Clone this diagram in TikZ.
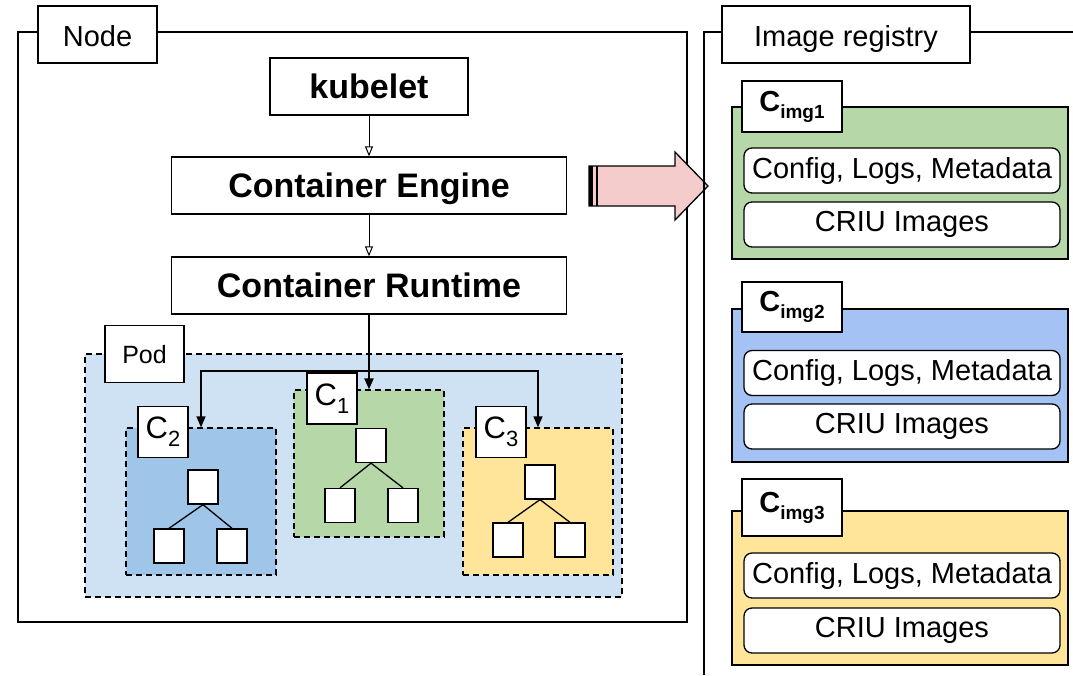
\documentclass[tikz,border=0pt]{standalone}
\usepackage{xcolor}
\usepackage{fontspec}
\setmainfont{Liberation Sans}
\usepackage{tikz}
\usetikzlibrary{positioning, arrows.meta, calc}
\definecolor{podblue}{HTML}{CFE2F3}
\definecolor{cgreen}{HTML}{B6D7A8}
\definecolor{cblue}{HTML}{9FC5E8}
\definecolor{cyellow}{HTML}{FFE599}
\definecolor{imgblue}{HTML}{A4C2F4}
\definecolor{arrowpink}{HTML}{F4CCCC}

\newcommand{\fs}[1]{\fontsize{#1}{#1}\selectfont}
\newcommand{\csub}[1]{C\raisebox{-8pt}{\fs{22}#1}}
\newcommand{\cimg}[1]{\textbf{C\raisebox{-7pt}{\fs{19}img#1}}}

\tikzset{
	box/.style={draw, fill=white, line width=1.3pt, inner sep=0pt},
	frame/.style={draw, line width=1.3pt},
	tagbox/.style={box, font=\fs{29}, text height=23pt, text depth=0pt},
	layer/.style={box, font=\fs{34}\bfseries, minimum height=57pt, text height=24.5pt, text depth=0pt},
	cbox/.style={draw, line width=1.3pt, dash pattern=on 6pt off 4pt, inner sep=0pt, minimum width=150pt, minimum height=147pt},
	ctag/.style={box, font=\fs{31}, minimum width=50pt, minimum height=51pt},
	leaf/.style={box, minimum width=30pt, minimum height=34pt},
	imgbox/.style={draw, line width=1.3pt, inner sep=0pt, minimum width=336pt},
	imgtag/.style={box, font=\fs{29}, minimum width=100pt},
	part/.style={box, rounded corners=8pt, font=\fs{29}, minimum width=316pt, minimum height=45pt},
	hollow/.style={-{Triangle[open, width=8pt, length=10pt]}, line width=1pt},
	solid tip/.style={-{Triangle[width=9pt, length=11pt]}, line width=1.5pt}
}

\begin{document}
\begin{tikzpicture}[x=1pt, y=-1pt]
		\useasboundingbox (0,0) rectangle (1073,675);
		
		%% node frame
		\draw[frame] (18,32) rectangle (687,622);
		\node[tagbox, minimum width=119pt, minimum height=57pt] (nodetag) at (97.5,34.5) {Node};
		
		\node[layer, minimum width=198pt] (kubelet) at (369,86.5) {kubelet};
		\node[layer, minimum width=395pt] (engine) at (369,185.5) {Container Engine};
		\node[layer, minimum width=395pt] (runtime) at (369,285.5) {Container Runtime};
		\draw[hollow] (kubelet) -- (engine);
		\draw[hollow] (engine) -- (runtime);
		
		%% pod
		\node[cbox, fill=podblue, minimum width=537pt, minimum height=243pt] (pod) at (353.5,475.5) {};
		\node[tagbox, font=\fs{25}, text height=19pt, minimum width=79pt, minimum height=57pt] (podtag) at (144.5,354) {Pod};
		
		\node[cbox, fill=cgreen] (c1box) at (369,463.5) {};
		\node[cbox, fill=cblue] (c2box) at (201,501.5) {};
		\node[cbox, fill=cyellow] (c3box) at (538,501.5) {};
		\node[ctag] (c1tag) at (332,398.5) {\csub{1}};
		\node[ctag] (c2tag) at (163,432) {\csub{2}};
		\node[ctag] (c3tag) at (501,432) {\csub{3}};
		
		\coordinate (split) at (369,371);
		\draw[solid tip, line width=2.2pt] (runtime) -- (c1box);
		\draw[solid tip] (split) -| (c2box.north);
		\draw[solid tip] (split) -| (c3box.north);
		
		%% process trees
		\node[leaf] (c1top) at (371,445.5) {};
		\node[leaf] (c1left) at (340,505.5) {};
		\node[leaf] (c1right) at (403,505.5) {};
		\draw[line width=1.3pt] (c1top.south) -- (c1left.north);
		\draw[line width=1.3pt] (c1top.south) -- (c1right.north);
		
		\node[leaf] (c2top) at (203,487) {};
		\node[leaf] (c2left) at (169,546) {};
		\node[leaf] (c2right) at (232,546) {};
		\draw[line width=1.3pt] (c2top.south) -- (c2left.north);
		\draw[line width=1.3pt] (c2top.south) -- (c2right.north);
		
		\node[leaf] (c3top) at (540,482) {};
		\node[leaf] (c3left) at (508,540) {};
		\node[leaf] (c3right) at (570,540) {};
		\draw[line width=1.3pt] (c3top.south) -- (c3left.north);
		\draw[line width=1.3pt] (c3top.south) -- (c3right.north);
		
		%% checkpoint arrow
		\filldraw[fill=arrowpink, line width=1.3pt] (589,166) -- (675,166) -- (675,152) -- (708,186) -- (675,220) -- (675,206) -- (589,206) -- cycle;
		\draw[line width=4pt] (591,166) -- (591,206);
		\draw[line width=1.2pt] (597,166) -- (597,206);
		
		%% image registry
		\draw[frame] (704,675) -- (704,32) -- (1073,32);
		\node[tagbox, minimum width=248pt, minimum height=57pt] (regtag) at (846,34.5) {Image registry};
		
		\node[imgbox, fill=cgreen, minimum height=152pt] (img1) at (900,183) {};
		\node[imgtag, minimum height=51pt] (img1tag) at (792,106.5) {\cimg{1}};
		\node[part] (img1cfg) at (902,170.5) {Config, Logs, Metadata};
		\node[part] (img1criu) at (902,224.5) {CRIU Images};
		
		\node[imgbox, fill=imgblue, minimum height=153pt] (img2) at (900,385.5) {};
		\node[imgtag, minimum height=50pt] (img2tag) at (792,307) {\cimg{2}};
		\node[part] (img2cfg) at (902,373) {Config, Logs, Metadata};
		\node[part] (img2criu) at (902,426.5) {CRIU Images};
		
		\node[imgbox, fill=cyellow, minimum height=154pt] (img3) at (900,588) {};
		\node[imgtag, minimum height=57pt] (img3tag) at (792,507.5) {\cimg{3}};
		\node[part] (img3cfg) at (902,575.5) {Config, Logs, Metadata};
		\node[part] (img3criu) at (902,630.5) {CRIU Images};
\end{tikzpicture}
\end{document}
